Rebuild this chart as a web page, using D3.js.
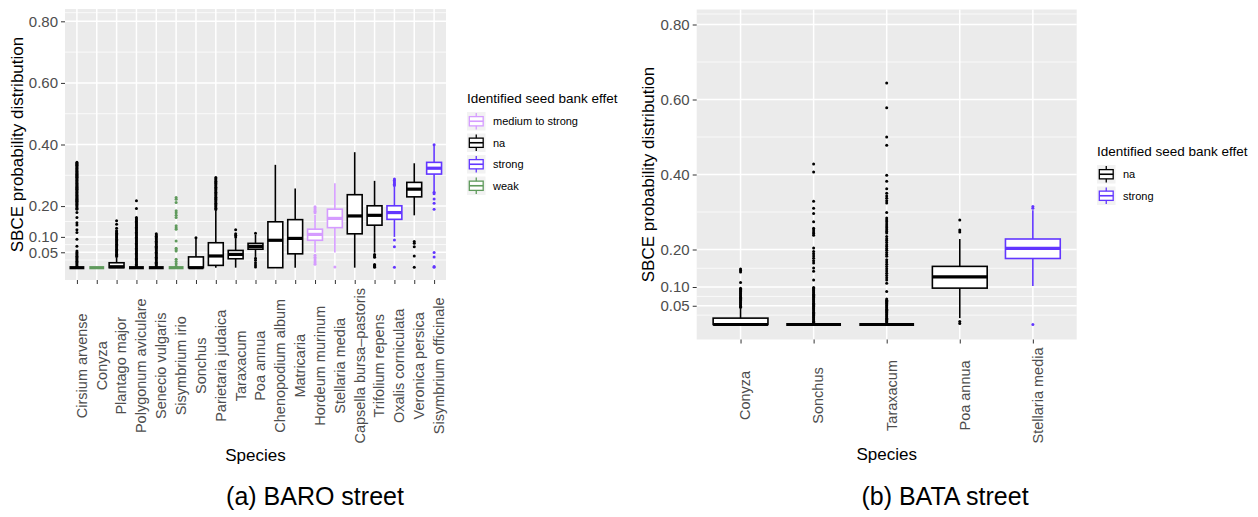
<!DOCTYPE html>
<html><head><meta charset="utf-8">
<script src="https://cdn.jsdelivr.net/npm/d3@7"></script>
<style>body{margin:0;background:#fff} text{font-family:"Liberation Sans",Arial,Helvetica,sans-serif}</style>
</head><body><svg id="c" width="1258" height="517"></svg>
<script>
// ---------- shared axis definitions ----------
const yLimits = [0, 0.8];
const yBreaks = [0.05, 0.10, 0.20, 0.40, 0.60, 0.80];
const yBreakLabels = ["0.05", "0.10", "0.20", "0.40", "0.60", "0.80"];
const yMinorBreaks = [0.025, 0.075, 0.15, 0.30, 0.50, 0.70, 0.828];
const yTitle = "SBCE probability distribution";
const xTitle = "Species";
const legendTitle = "Identified seed bank effet";

// ---------- (a) BARO street ----------
const baroSpecies = ["Cirsium arvense","Conyza","Plantago major","Polygonum aviculare","Senecio vulgaris","Sisymbrium irio","Sonchus","Parietaria judaica","Taraxacum","Poa annua","Chenopodium album","Matricaria","Hordeum murinum","Stellaria media","Capsella bursa\u2013pastoris","Trifolium repens","Oxalis corniculata","Veronica persica","Sisymbrium officinale"];
const baroEffect = ["na","weak","na","na","na","weak","na","na","na","na","na","na","medium to strong","medium to strong","na","na","strong","na","strong"];
const baroLower  = [0,0,0,0,0,0,0,0,0,0.035,0,0,0.049,0.049,0,0.049,0.100,0.170,0.248];
const baroQ1     = [0,0,0,0,0,0,0,0.0075,0.029,0.060,0,0.045,0.089,0.130,0.110,0.138,0.157,0.230,0.304];
const baroMedian = [0,0,0.003,0,0,0,0,0.038,0.043,0.069,0.089,0.095,0.108,0.160,0.168,0.170,0.179,0.255,0.323];
const baroQ3     = [0,0,0.016,0,0,0,0.035,0.081,0.056,0.079,0.149,0.156,0.125,0.190,0.237,0.201,0.201,0.277,0.342];
const baroUpper  = [0,0,0.032,0,0,0,0.095,0.186,0.096,0.107,0.334,0.257,0.172,0.274,0.375,0.282,0.264,0.339,0.395];
const baroOutliers = [
  [0.342,0.339,0.336,0.333,0.330,0.327,0.324,0.321,0.318,0.315,0.312,0.309,0.306,0.303,0.300,0.297,0.294,0.291,0.288,0.285,0.282,0.279,0.276,0.273,0.270,0.267,0.264,0.261,0.258,0.255,0.252,0.249,0.246,0.243,0.240,0.237,0.234,0.231,0.228,0.225,0.222,0.219,0.216,0.213,0.210,0.207,0.204,0.201,0.197,0.193,0.190,0.179,0.163,0.146,0.139,0.123,0.114,0.092,0.070,0.054,0.049,0.045,0.041,0.037,0.033,0.029,0.025,0.021,0.017,0.013,0.009,0.005,0.002],
  [],
  [0.152,0.141,0.128,0.120,0.116,0.112,0.108,0.104,0.100,0.096,0.092,0.088,0.084,0.080,0.076,0.072,0.068,0.064,0.060,0.056,0.052,0.048,0.044,0.040,0.036],
  [0.217,0.192,0.163,0.159,0.155,0.151,0.147,0.143,0.139,0.135,0.131,0.127,0.123,0.119,0.115,0.111,0.107,0.103,0.099,0.095,0.091,0.087,0.083,0.079,0.075,0.071,0.067,0.063,0.059,0.055,0.051,0.047,0.043,0.039,0.035,0.031,0.027,0.023,0.019,0.015,0.011,0.007,0.003],
  [0.110,0.106,0.102,0.098,0.094,0.090,0.086,0.082,0.078,0.074,0.070,0.066,0.062,0.058,0.054,0.050,0.046,0.042,0.038,0.034,0.030,0.026,0.022,0.018,0.014,0.010,0.006,0.003],
  [0.228,0.222,0.212,0.185,0.178,0.170,0.163,0.136,0.130,0.125,0.087,0.063,0.058,0.054,0.027,0.020,0.013,0.005],
  [0.097],
  [0.293,0.289,0.285,0.281,0.277,0.273,0.269,0.265,0.261,0.257,0.253,0.249,0.245,0.241,0.237,0.233,0.229,0.225,0.221,0.217,0.213,0.209,0.205,0.201,0.197,0.193,0.189],
  [0.123,0.110,0.105,0.100],
  [0.112,0.031,0.024,0.016,0.009,0.002],
  [],
  [],
  [0.198,0.194,0.188,0.183,0.178,0.040,0.034,0.028,0.022,0.016,0.011],
  [0.002],
  [],
  [0.043,0.038,0.034,0.010,0.007,0.004,0.001],
  [0.288,0.284,0.279,0.275,0.271,0.267,0.090,0.068,0.001],
  [0.085,0.079,0.068,0.038,0.001],
  [0.399,0.245,0.240,0.223,0.209,0.190,0.049,0.035,0.004,0.001]
];

// ---------- (b) BATA street ----------
const bataSpecies = ["Conyza","Sonchus","Taraxacum","Poa annua","Stellaria media"];
const bataEffect  = ["na","na","na","na","strong"];
const bataLower   = [0,0,0,0.017,0.103];
const bataQ1      = [0,0,0,0.097,0.176];
const bataMedian  = [0,0,0,0.127,0.203];
const bataQ3      = [0.017,0,0,0.155,0.228];
const bataUpper   = [0.044,0,0,0.228,0.305];
const bataOutliers = [
  [0.148,0.144,0.140,0.112,0.097,0.094,0.091,0.088,0.085,0.082,0.079,0.076,0.073,0.070,0.067,0.064,0.061,0.058,0.055,0.052,0.049,0.046],
  [0.428,0.407,0.329,0.310,0.296,0.274,0.257,0.252,0.247,0.243,0.238,0.204,0.195,0.189,0.183,0.177,0.170,0.164,0.151,0.142,0.119,0.099,0.096,0.093,0.090,0.087,0.084,0.081,0.078,0.075,0.072,0.069,0.066,0.063,0.060,0.057,0.054,0.051,0.048,0.045,0.042,0.039,0.036,0.033,0.030,0.027,0.024,0.021,0.018,0.015,0.012,0.009,0.006,0.003],
  [0.644,0.578,0.500,0.478,0.398,0.382,0.362,0.350,0.343,0.337,0.330,0.324,0.299,0.284,0.279,0.274,0.268,0.263,0.258,0.253,0.248,0.244,0.235,0.229,0.224,0.219,0.213,0.208,0.203,0.198,0.192,0.187,0.182,0.173,0.167,0.161,0.155,0.149,0.143,0.137,0.131,0.125,0.119,0.110,0.088,0.068,0.065,0.062,0.059,0.056,0.053,0.050,0.047,0.044,0.041,0.038,0.035,0.032,0.029,0.026,0.023,0.020,0.017,0.014,0.011,0.008,0.005,0.002],
  [0.279,0.252,0.247,0.008,0.003],
  [0.315,0.310,0.000]
];

// ---------- styles ----------
const effectOrder = ["medium to strong","na","strong","weak"];
const effectColor = {"medium to strong":"#d59cff","na":"#000000","strong":"#6236ff","weak":"#5f9a5c"};

const svg = d3.select("#c");
const FONT = '"Liberation Sans",Arial,Helvetica,sans-serif';

function drawPanel(d, L) {
  const g = svg.append("g");
  const [lo, hi] = yLimits;
  const ex = (hi - lo) * 0.05;
  const y = d3.scaleLinear().domain([lo - ex, hi + ex]).range([L.bottom, L.top]);
  const x = d3.scalePoint().domain(d.species).range([L.left, L.right]).padding(0.6);
  const bw = x.step() * 0.75;

  // background
  g.append("rect").attr("x", L.left).attr("y", L.top)
    .attr("width", L.right - L.left).attr("height", L.bottom - L.top).attr("fill", "#ebebeb");
  // minor grid
  g.selectAll(".mn").data(yMinorBreaks.filter(v => y(v) >= L.top && y(v) <= L.bottom)).join("line")
    .attr("x1", L.left).attr("x2", L.right).attr("y1", v => y(v)).attr("y2", v => y(v))
    .attr("stroke", "#fff").attr("stroke-width", 0.75);
  // major grid
  g.selectAll(".mj").data(yBreaks).join("line")
    .attr("x1", L.left).attr("x2", L.right).attr("y1", v => y(v)).attr("y2", v => y(v))
    .attr("stroke", "#fff").attr("stroke-width", 1.5);
  g.selectAll(".vx").data(d.species).join("line")
    .attr("x1", s => x(s)).attr("x2", s => x(s)).attr("y1", L.top).attr("y2", L.bottom)
    .attr("stroke", "#fff").attr("stroke-width", 1.5);

  // boxes
  d.species.forEach((s, i) => {
    const col = effectColor[d.effect[i]];
    const cx = x(s);
    const bg = g.append("g");
    bg.append("line").attr("x1", cx).attr("x2", cx).attr("y1", y(d.upper[i])).attr("y2", y(d.q3[i]))
      .attr("stroke", col).attr("stroke-width", 1.6);
    bg.append("line").attr("x1", cx).attr("x2", cx).attr("y1", y(d.q1[i])).attr("y2", y(d.lower[i]))
      .attr("stroke", col).attr("stroke-width", 1.6);
    bg.selectAll("circle").data(d.outliers[i]).join("circle")
      .attr("cx", cx).attr("cy", v => y(v)).attr("r", 1.5).attr("fill", col);
    bg.append("rect").attr("x", cx - bw / 2).attr("width", bw)
      .attr("y", y(d.q3[i])).attr("height", Math.max(0, y(d.q1[i]) - y(d.q3[i])))
      .attr("fill", "#fff").attr("stroke", col).attr("stroke-width", 1.6);
    bg.append("line").attr("x1", cx - bw / 2).attr("x2", cx + bw / 2)
      .attr("y1", y(d.median[i])).attr("y2", y(d.median[i]))
      .attr("stroke", col).attr("stroke-width", 3.2);
  });

  // y axis
  const ya = g.append("g").attr("transform", `translate(${L.left},0)`)
    .call(d3.axisLeft(y).tickValues(yBreaks).tickFormat((v, i) => yBreakLabels[i]).tickSize(4).tickPadding(3));
  ya.select(".domain").remove();
  ya.selectAll(".tick line").attr("stroke", "#333").attr("stroke-width", 1);
  ya.selectAll(".tick text").attr("fill", "#4d4d4d").style("font-size", "15px").style("font-family", FONT);

  // x axis
  const xa = g.append("g").attr("transform", `translate(0,${L.bottom})`)
    .call(d3.axisBottom(x).tickSize(4).tickFormat(""));
  xa.select(".domain").remove();
  xa.selectAll(".tick line").attr("stroke", "#333").attr("stroke-width", 1);
  const labs = g.selectAll(".xl").data(d.species).join("text")
    .text(s => s).attr("fill", "#4d4d4d").style("font-size", "14.5px").style("font-family", FONT)
    .attr("text-anchor", "middle").attr("dy", "0.68em");
  let maxLen = 0;
  labs.each(function () { maxLen = Math.max(maxLen, this.getComputedTextLength()); });
  const yc = L.bottom + 4 + 4 + maxLen / 2;
  labs.attr("transform", s => `translate(${x(s)},${yc}) rotate(-90)`);

  // titles
  g.append("text").text(yTitle).attr("text-anchor", "middle")
    .attr("transform", `translate(${L.left - 42.5},${(L.top + L.bottom) / 2}) rotate(-90)`)
    .style("font-size", "17px").style("font-family", FONT).attr("fill", "#000");
  g.append("text").text(xTitle).attr("text-anchor", "middle")
    .attr("x", (L.left + L.right) / 2).attr("y", L.xTitleY)
    .style("font-size", "17px").style("font-family", FONT).attr("fill", "#000");
  g.append("text").text(L.caption).attr("text-anchor", "middle")
    .attr("x", L.captionX).attr("y", 505)
    .style("font-size", "25px").style("font-family", FONT).attr("fill", "#000");

  // legend
  const present = effectOrder.filter(e => d.effect.includes(e));
  const lg = g.append("g").attr("transform", `translate(${L.legX},${L.legY})`);
  lg.append("text").text(legendTitle).attr("x", 0).attr("y", 0)
    .style("font-size", "13.5px").style("font-family", FONT).attr("fill", "#000");
  const ks = 18.5, kgap = 21.5;
  present.forEach((e, i) => {
    const col = effectColor[e];
    const ky = 9 + i * kgap;
    const k = lg.append("g").attr("transform", `translate(0,${ky})`);
    k.append("rect").attr("width", ks).attr("height", ks).attr("fill", "#f2f2f2");
    k.append("line").attr("x1", ks / 2).attr("x2", ks / 2).attr("y1", 1).attr("y2", ks - 1)
      .attr("stroke", col).attr("stroke-width", 1.3);
    k.append("rect").attr("x", ks * 0.125).attr("y", ks * 0.25).attr("width", ks * 0.75).attr("height", ks * 0.5)
      .attr("fill", "#fff").attr("stroke", col).attr("stroke-width", 1.3);
    k.append("line").attr("x1", ks * 0.125).attr("x2", ks * 0.875).attr("y1", ks / 2).attr("y2", ks / 2)
      .attr("stroke", col).attr("stroke-width", 1.6);
    k.append("text").text(e).attr("x", ks + 7.5).attr("y", ks / 2).attr("dy", "0.35em")
      .style("font-size", "11px").style("font-family", FONT).attr("fill", "#000");
  });
}

drawPanel({species: baroSpecies, effect: baroEffect, lower: baroLower, q1: baroQ1, median: baroMedian,
           q3: baroQ3, upper: baroUpper, outliers: baroOutliers},
          {left: 65, right: 446, top: 9, bottom: 280, xTitleY: 461, caption: "(a) BARO street", captionX: 315,
           legX: 467, legY: 103});
drawPanel({species: bataSpecies, effect: bataEffect, lower: bataLower, q1: bataQ1, median: bataMedian,
           q3: bataQ3, upper: bataUpper, outliers: bataOutliers},
          {left: 696.7, right: 1076.7, top: 9.5, bottom: 339.5, xTitleY: 460, caption: "(b) BATA street", captionX: 945,
           legX: 1097, legY: 156});
</script></body></html>
